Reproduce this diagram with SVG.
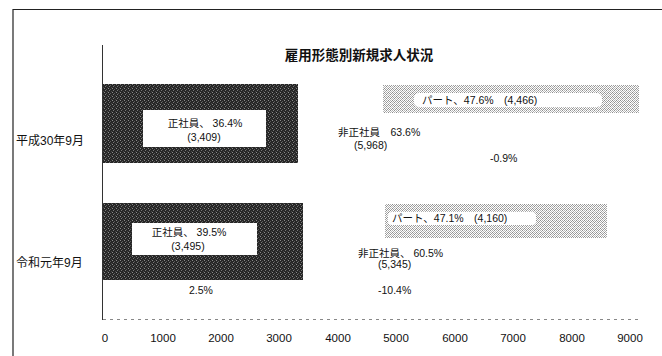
<svg xmlns="http://www.w3.org/2000/svg" width="662" height="356" viewBox="0 0 662 356">
<style>
text{font-family:"Liberation Sans","Noto Sans CJK JP",sans-serif;fill:#111}
.cat{font-size:12px}
.lbl{font-size:10.5px}
.tick{font-size:11.5px;text-anchor:middle}
.mid{text-anchor:middle}
</style>
<defs>
<pattern id="dark" width="4" height="4" patternUnits="userSpaceOnUse">
<rect width="4" height="4" fill="#262626"/>
<rect x="0" y="0" width="1" height="1" fill="#8a8a8a"/>
<rect x="2" y="1" width="1" height="1" fill="#5a5a5a"/>
<rect x="1" y="2" width="1" height="1" fill="#777"/>
<rect x="3" y="3" width="1" height="1" fill="#4a4a4a"/>
</pattern>
<pattern id="dots" width="4" height="4" patternUnits="userSpaceOnUse">
<rect width="4" height="4" fill="#fff"/>
<rect x="0" y="0" width="1" height="1" fill="#8c8c8c"/>
<rect x="2" y="0" width="1" height="1" fill="#b0b0b0"/>
<rect x="1" y="1" width="1" height="1" fill="#a0a0a0"/>
<rect x="3" y="1" width="1" height="1" fill="#999"/>
<rect x="0" y="2" width="1" height="1" fill="#b5b5b5"/>
<rect x="2" y="2" width="1" height="1" fill="#8f8f8f"/>
<rect x="1" y="3" width="1" height="1" fill="#aaa"/>
<rect x="3" y="3" width="1" height="1" fill="#bdbdbd"/>
</pattern>
</defs>
<rect width="662" height="356" fill="#fff"/>
<g id="frame" fill="none" stroke="#222" stroke-width="1.2">
<path d="M13 356 V9.5 H662"/>
</g>
<text id="title" x="359" y="60" class="mid" style="font-size:13.5px;font-weight:bold">雇用形態別新規求人状況</text>
<g id="axes">
<line x1="102.5" y1="45" x2="102.5" y2="320" stroke="#333" stroke-width="1"/>
<line x1="103" y1="319.5" x2="640" y2="319.5" stroke="#888" stroke-width="1" stroke-dasharray="3 4"/>
<g id="ticks">
<text class="tick" x="105" y="342">0</text>
<text class="tick" x="163" y="342">1000</text>
<text class="tick" x="221" y="342">2000</text>
<text class="tick" x="279" y="342">3000</text>
<text class="tick" x="338" y="342">4000</text>
<text class="tick" x="396" y="342">5000</text>
<text class="tick" x="455" y="342">6000</text>
<text class="tick" x="513" y="342">7000</text>
<text class="tick" x="572" y="342">8000</text>
<text class="tick" x="630" y="342">9000</text>
</g>
</g>
<g id="cat-h30"><text class="cat" x="16" y="145">平成30年9月</text></g>
<g id="cat-r1"><text class="cat" x="16" y="267">令和元年9月</text></g>
<g id="bar-h30-seishain">
<rect x="103" y="84" width="195" height="79" fill="url(#dark)"/>
<rect x="143" y="110" width="123" height="37" fill="#fff"/>
<text class="lbl mid" x="205" y="127">正社員、 36.4%</text>
<text class="lbl mid" x="204" y="141">(3,409)</text>
</g>
<g id="bar-h30-part">
<rect x="383" y="85" width="256" height="28" fill="url(#dots)"/>
<rect x="414" y="93" width="188" height="14" rx="5" fill="#fff"/>
<text class="lbl" x="422" y="104">パート、47.6%　(4,466)</text>
</g>
<g id="lbl-h30-hisei">
<text class="lbl" x="338" y="136">非正社員　63.6%</text>
<text class="lbl" x="354" y="149">(5,968)</text>
</g>
<g id="lbl-h30-diff"><text class="lbl" x="490" y="162">-0.9%</text></g>
<g id="bar-r1-seishain">
<rect x="103" y="203" width="200" height="77" fill="url(#dark)"/>
<rect x="132" y="223" width="125" height="32" fill="#fff"/>
<text class="lbl mid" x="189" y="236">正社員、 39.5%</text>
<text class="lbl mid" x="188" y="250">(3,495)</text>
</g>
<g id="bar-r1-part">
<rect x="385" y="204" width="222" height="34" fill="url(#dots)"/>
<rect x="388" y="212" width="148" height="13" rx="4" fill="#fff"/>
<text class="lbl" x="392" y="222">パート、47.1%　(4,160)</text>
</g>
<g id="lbl-r1-hisei">
<text class="lbl" x="358" y="257">非正社員、 60.5%</text>
<text class="lbl" x="378" y="268">(5,345)</text>
</g>
<g id="lbl-r1-diff"><text class="lbl" x="378" y="294">-10.4%</text></g>
<g id="lbl-r1-seidiff"><text class="lbl" x="189" y="294">2.5%</text></g>
</svg>
